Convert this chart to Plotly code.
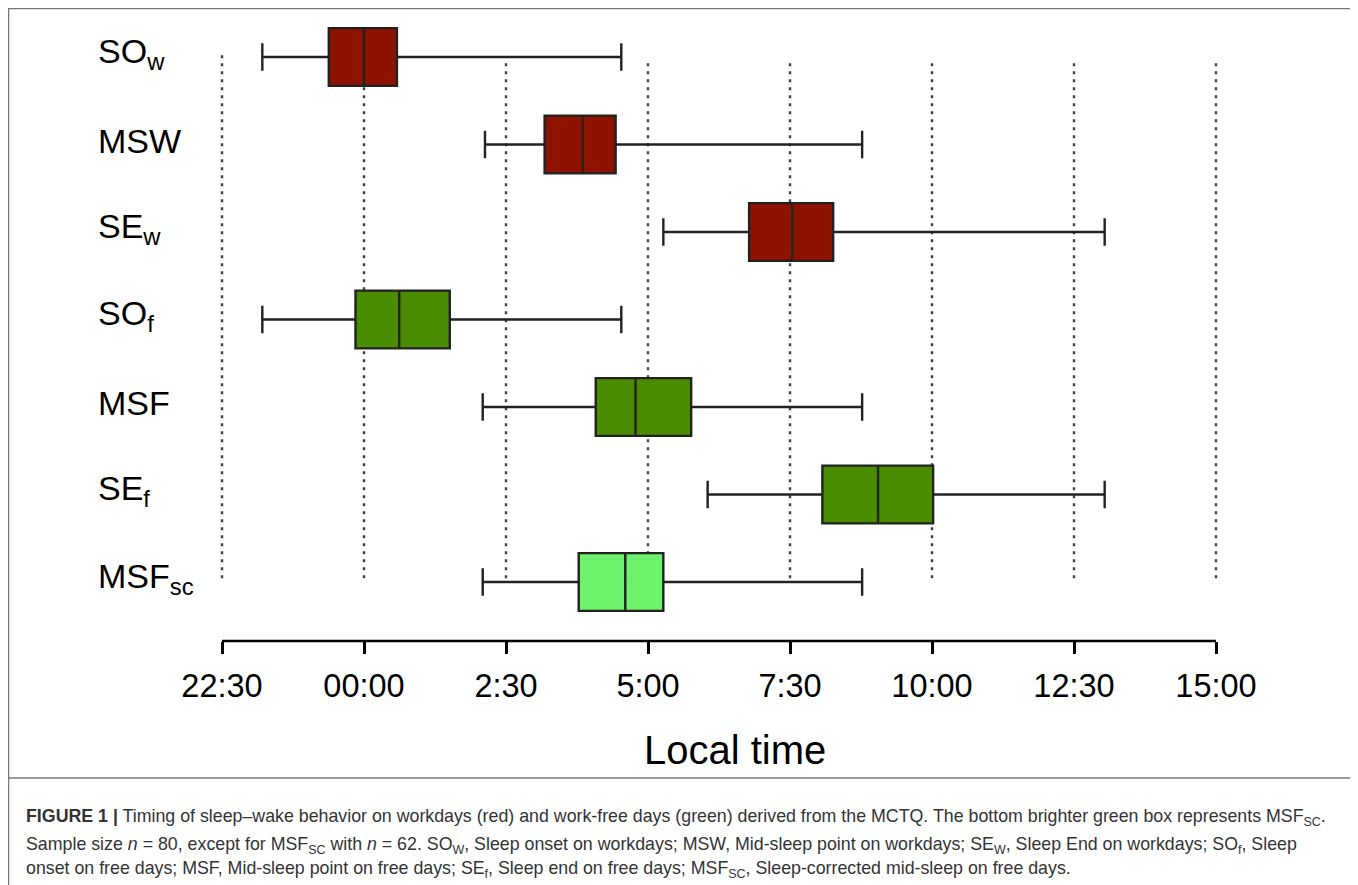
import plotly.graph_objects as go

# ---- data (hours relative to midnight) ----
categories = ["SO<sub>w</sub>", "MSW", "SE<sub>w</sub>", "SO<sub>f</sub>", "MSF", "SE<sub>f</sub>", "MSF<sub>sc</sub>"]
lower_whisker = [-1.79, 2.13, 5.27, -1.79, 2.09, 6.05, 2.09]
q1_vals = [-0.62, 3.18, 6.78, -0.15, 4.08, 8.07, 3.78]
median_vals = [0.00, 3.85, 7.54, 0.62, 4.78, 9.05, 4.60]
q3_vals = [0.58, 4.43, 8.26, 1.51, 5.76, 10.02, 5.27]
upper_whisker = [4.53, 8.77, 13.04, 4.53, 8.77, 13.04, 8.77]
box_colors = ["#8E1200", "#8E1200", "#8E1200", "#4A8C00", "#4A8C00", "#4A8C00", "#6CF26C"]

tick_vals = [-2.5, 0, 2.5, 5, 7.5, 10, 12.5, 15]
tick_text = ["22:30", "00:00", "2:30", "5:00", "7:30", "10:00", "12:30", "15:00"]

caption_lines = [
    "<b>FIGURE 1 |</b> Timing of sleep–wake behavior on workdays (red) and work-free days (green) derived from the MCTQ. The bottom brighter green box represents MSF<sub>SC</sub>.",
    "Sample size <i>n</i> = 80, except for MSF<sub>SC</sub> with <i>n</i> = 62. SO<sub>W</sub>, Sleep onset on workdays; MSW, Mid-sleep point on workdays; SE<sub>W</sub>, Sleep End on workdays; SO<sub>f</sub>, Sleep",
    "onset on free days; MSF, Mid-sleep point on free days; SE<sub>f</sub>, Sleep end on free days; MSF<sub>SC</sub>, Sleep-corrected mid-sleep on free days.",
]

FONT = "Liberation Sans, Arial, sans-serif"

# ---- layout geometry (page pixels; the page body adds an 8px offset) ----
OFF = 8
W, H = 1358 - OFF, 885 - OFF
L, R = 200, 1240          # plot area left/right (page px)
T, B = 20, 641            # plot area top/bottom (page px)
pw, ph = R - L, B - T

def px_x(p):
    return (p - L) / pw

def px_y(p):
    return (B - p) / ph

fig = go.Figure()

for i, cat in enumerate(categories):
    fig.add_trace(go.Box(
        y=[cat],
        q1=[q1_vals[i]], median=[median_vals[i]], q3=[q3_vals[i]],
        lowerfence=[lower_whisker[i]], upperfence=[upper_whisker[i]],
        orientation="h",
        fillcolor=box_colors[i],
        line=dict(color="#222222", width=2.4),
        width=0.66,
        whiskerwidth=0.48,
        boxpoints=False,
        hoverinfo="skip",
        showlegend=False,
    ))

shapes = []
# dotted reference lines at each tick
for v in tick_vals:
    shapes.append(dict(type="line", xref="x", yref="y", x0=v, x1=v,
                       y0=-0.02 if v == tick_vals[0] else 0.07, y1=5.98,
                       line=dict(color="#444444", width=2.4, dash="3px,5px"), layer="below"))
# R-style axis line spanning first to last tick
shapes.append(dict(type="line", xref="x", yref="paper", x0=tick_vals[0], x1=tick_vals[-1],
                   y0=0, y1=0, line=dict(color="black", width=2.5)))
# outer frame and caption separator
shapes.append(dict(type="rect", xref="paper", yref="paper",
                   x0=px_x(8.5), x1=px_x(1355), y0=px_y(900), y1=px_y(8.5),
                   line=dict(color="#777777", width=1.5)))
shapes.append(dict(type="line", xref="paper", yref="paper",
                   x0=px_x(8.5), x1=px_x(1355), y0=px_y(778), y1=px_y(778),
                   line=dict(color="#777777", width=1.5)))

annotations = []
for cat in categories:
    annotations.append(dict(text=cat, xref="paper", yref="y", x=px_x(96), y=cat,
                            xanchor="left", yanchor="middle", showarrow=False, yshift=4,
                            font=dict(family=FONT, size=34, color="black")))
annotations.append(dict(text="Local time", xref="paper", yref="paper", x=px_x(735), y=px_y(750),
                        xanchor="center", yanchor="middle", showarrow=False,
                        font=dict(family=FONT, size=40, color="black")))
for line, yp in zip(caption_lines, [817, 845, 870]):
    annotations.append(dict(text=line, xref="paper", yref="paper", x=px_x(24), y=px_y(yp),
                            xanchor="left", yanchor="middle", showarrow=False, align="left",
                            font=dict(family=FONT, size=17.8, color="#333333")))

ymin = -(57 - T) / 87.5
ymax = 6 + (B - 582) / 87.5
xunit = (1216 - 222) / (tick_vals[-1] - tick_vals[0])
xmin = tick_vals[0] - (222 - L) / xunit
xmax = tick_vals[-1] + (R - 1216) / xunit

fig.update_layout(
    width=W, height=H,
    margin=dict(l=L - OFF, r=W - (R - OFF), t=T - OFF, b=H - (B - OFF), pad=0),
    paper_bgcolor="white", plot_bgcolor="white",
    shapes=shapes, annotations=annotations,
    showlegend=False,
    boxmode="overlay",
    xaxis=dict(range=[xmin, xmax], tickvals=tick_vals, ticktext=tick_text,
               showgrid=False, zeroline=False, showline=False,
               ticks="outside", ticklen=12, tickwidth=2.5, tickcolor="black",
               ticklabelstandoff=4,
               tickfont=dict(family=FONT, size=32.5, color="black"),
               fixedrange=True),
    yaxis=dict(type="category", categoryorder="array", categoryarray=categories,
               range=[ymax, ymin], showgrid=False, zeroline=False, showline=False,
               showticklabels=False, ticks="", fixedrange=True),
)

fig.write_html("out.html")
